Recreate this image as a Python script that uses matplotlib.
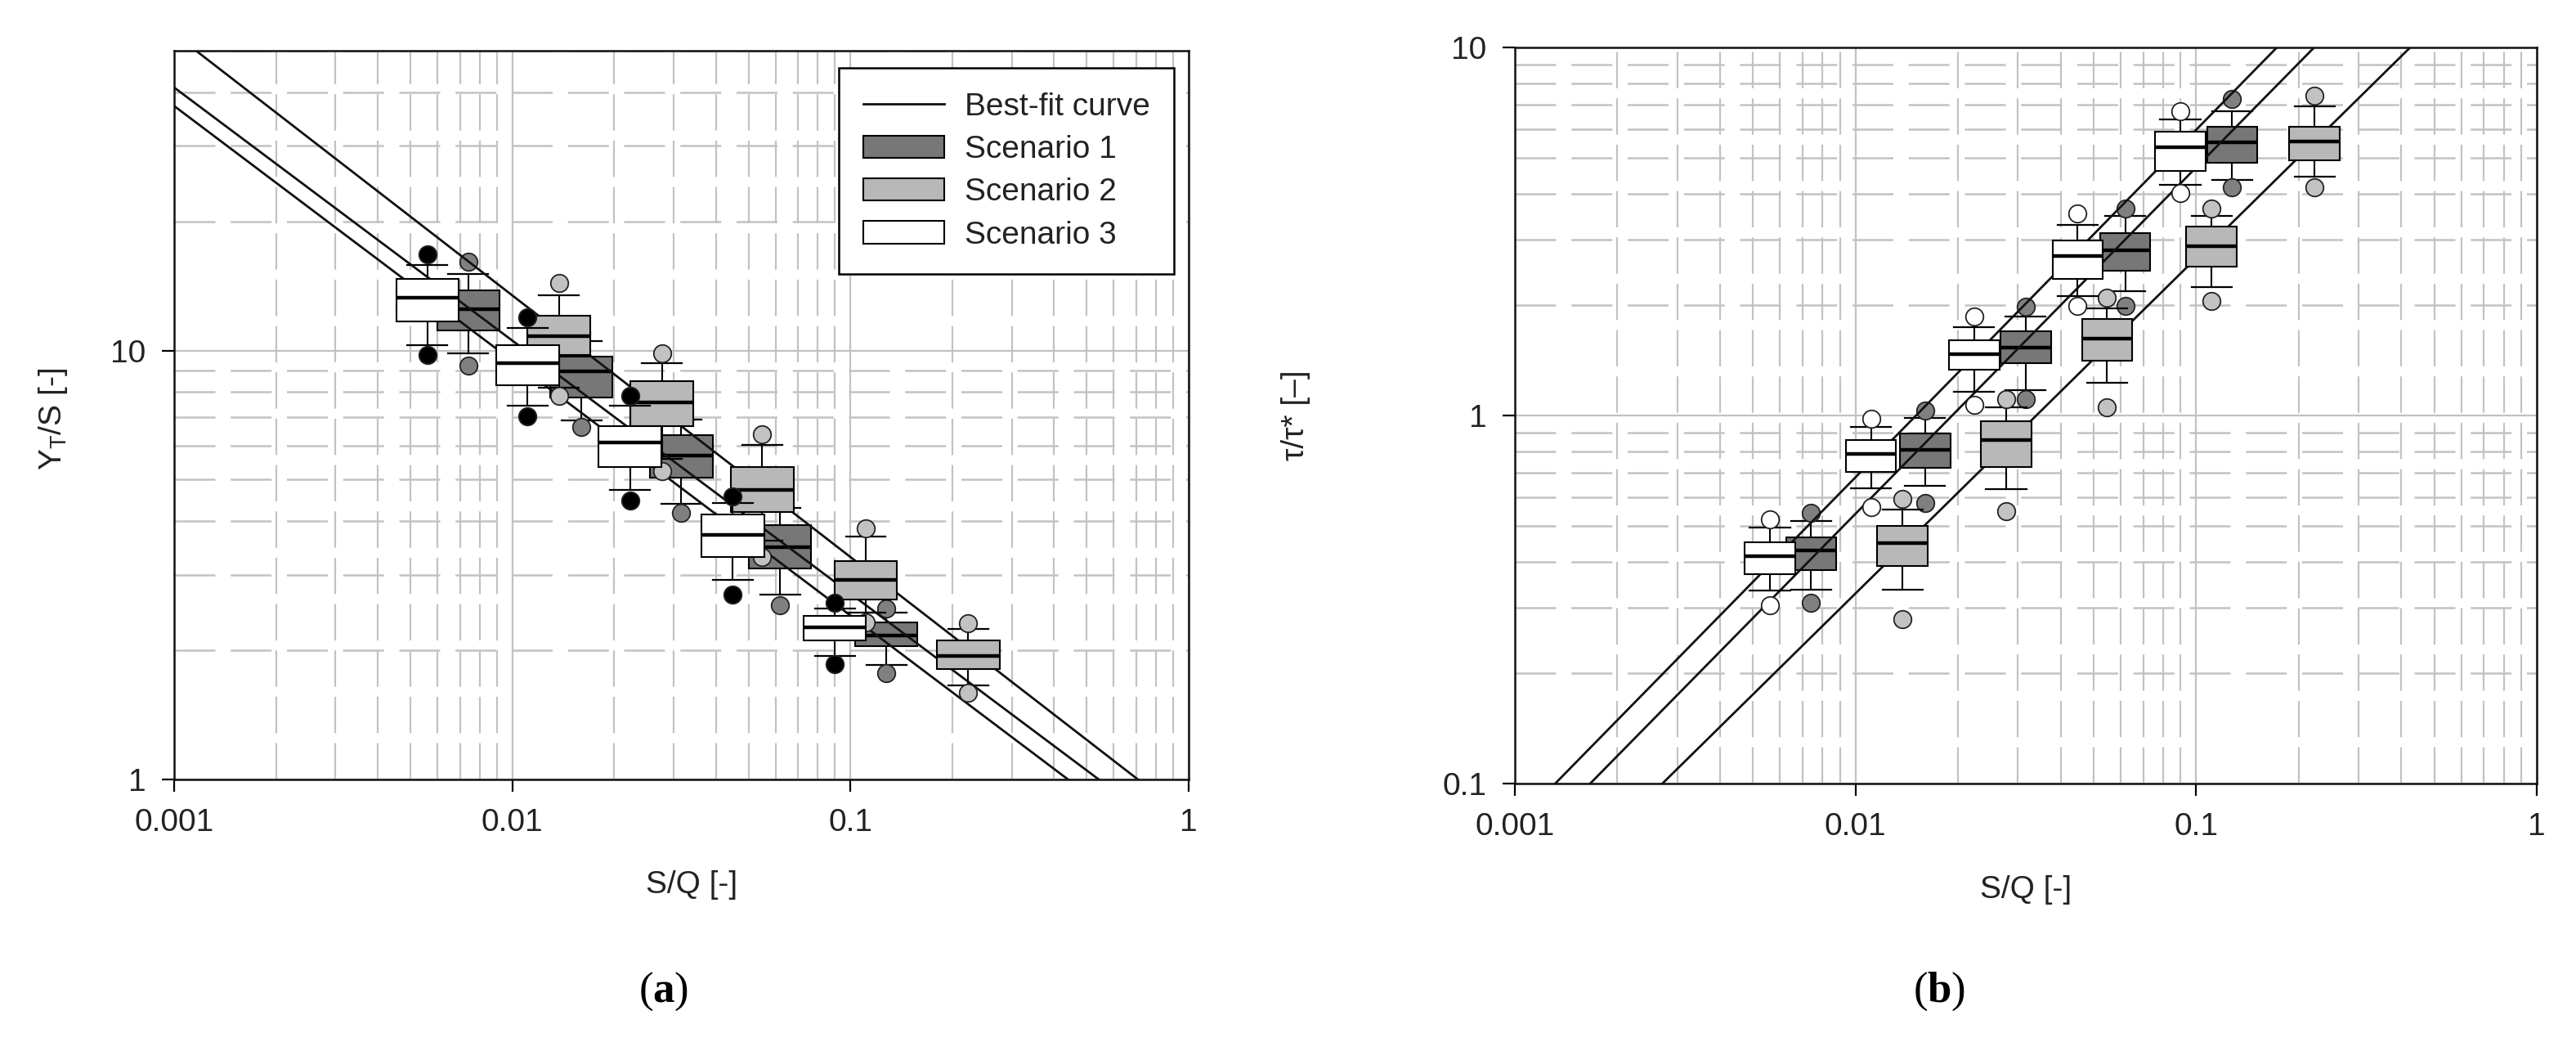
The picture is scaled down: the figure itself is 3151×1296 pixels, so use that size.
import numpy as np
import matplotlib
matplotlib.use("Agg")
import matplotlib.pyplot as plt
from matplotlib.patches import Rectangle, Patch
from matplotlib.lines import Line2D
from matplotlib.ticker import FixedLocator, LogLocator, FuncFormatter, NullFormatter

plt.rcParams['font.family'] = ['Liberation Sans', 'DejaVu Sans']
plt.rcParams['mathtext.fontset'] = 'custom'
plt.rcParams['mathtext.bf'] = 'Liberation Serif:bold'
plt.rcParams['mathtext.rm'] = 'Liberation Serif'

# ---------------- data ----------------
# S/Q positions of the boxes for each scenario
sq_s1 = [0.00741, 0.0160, 0.0316, 0.0619, 0.1276]
sq_s2 = [0.01374, 0.0277, 0.0548, 0.111, 0.2228]
sq_s3 = [0.00561, 0.0111, 0.0223, 0.0449, 0.0899]

# rows: [outlier_low, whisker_low, q1, median, q3, whisker_high, outlier_high]
# panel (a): Y_T/S
a_s1 = [[9.24, 9.87, 11.16, 12.46, 13.79, 15.06, 16.09],
        [6.64, 6.88, 7.78, 8.96, 9.70, 10.5, 11.0],
        [4.18, 4.39, 5.05, 5.69, 6.35, 6.9, 7.2],
        [2.55, 2.70, 3.11, 3.48, 3.91, 4.3, 4.5],
        [1.77, 1.85, 2.05, 2.17, 2.32, 2.45, 2.50]]
a_s2 = [[7.85, 8.2, 9.78, 10.82, 12.03, 13.43, 14.35],
        [5.23, 5.6, 6.67, 7.58, 8.50, 9.36, 9.87],
        [3.30, 3.6, 4.20, 4.73, 5.35, 6.03, 6.38],
        [2.32, 2.45, 2.63, 2.92, 3.23, 3.68, 3.85],
        [1.59, 1.66, 1.81, 1.94, 2.11, 2.24, 2.31]]
a_s3 = [[9.78, 10.31, 11.67, 13.26, 14.67, 15.81, 16.74],
        [7.03, 7.44, 8.31, 9.36, 10.27, 11.31, 11.93],
        [4.47, 4.73, 5.35, 6.11, 6.67, 7.44, 7.85],
        [2.70, 2.92, 3.30, 3.71, 4.15, 4.42, 4.57],
        [1.86, 1.94, 2.11, 2.26, 2.41, 2.50, 2.58]]

# panel (b): tau/tau*
b_s1 = [[0.310, 0.336, 0.380, 0.430, 0.467, 0.517, 0.544],
        [0.578, 0.644, 0.721, 0.806, 0.894, 0.985, 1.03],
        [1.11, 1.17, 1.39, 1.53, 1.69, 1.86, 1.98],
        [1.99, 2.18, 2.47, 2.81, 3.13, 3.48, 3.65],
        [4.17, 4.37, 4.86, 5.52, 6.09, 6.71, 7.24]]
b_s2 = [[0.280, 0.336, 0.390, 0.450, 0.501, 0.555, 0.593],
        [0.550, 0.631, 0.724, 0.858, 0.965, 1.05, 1.11],
        [1.05, 1.23, 1.41, 1.62, 1.83, 1.95, 2.09],
        [2.05, 2.23, 2.54, 2.88, 3.26, 3.48, 3.65],
        [4.17, 4.46, 4.94, 5.55, 6.09, 6.92, 7.39]]
b_s3 = [[0.305, 0.335, 0.371, 0.415, 0.453, 0.496, 0.522],
        [0.564, 0.634, 0.703, 0.787, 0.858, 0.931, 0.98],
        [1.07, 1.16, 1.33, 1.47, 1.60, 1.74, 1.86],
        [1.99, 2.11, 2.35, 2.71, 2.99, 3.29, 3.54],
        [4.02, 4.23, 4.62, 5.36, 5.90, 6.37, 6.71]]

# best-fit power laws y = c * x^e
fit_a_coef = [0.81, 0.697, 0.614]
fit_a_exp = [-0.610, -0.590, -0.594]
fit_b_coef = [52.5, 41.2, 21.8]
fit_b_exp = [0.944, 0.941, 0.911]

x_ticks = [0.001, 0.01, 0.1, 1]
a_yticks = [1, 10]
b_yticks = [0.1, 1, 10]
legend_labels = ['Best-fit curve', 'Scenario 1', 'Scenario 2', 'Scenario 3']

# ---------------- style ----------------
c_s1, c_s2, c_s3 = '#777777', '#b8b8b8', '#ffffff'
grid_c = '#c2c2c2'
txt_c = '#222222'

fig = plt.figure(figsize=(31.51, 12.96), dpi=100)
axA = fig.add_axes([213 / 3151, 1 - 953 / 1296, 1241 / 3151, 891 / 1296])
axB = fig.add_axes([1853 / 3151, 1 - 958 / 1296, 1250 / 3151, 900 / 1296])


def draw_box(ax, x, row, face, flier_face, bw, cw, z):
    olo, lo, q1, med, q3, hi, ohi = row
    f = 10 ** (bw / 2)
    g = 10 ** (cw / 2)
    ax.plot([x, x], [q3, hi], color='black', lw=1.5, zorder=z)
    ax.plot([x, x], [lo, q1], color='black', lw=1.5, zorder=z)
    ax.plot([x / g, x * g], [hi, hi], color='black', lw=1.6, zorder=z)
    ax.plot([x / g, x * g], [lo, lo], color='black', lw=1.6, zorder=z)
    ax.add_patch(Rectangle((x / f, q1), x * f - x / f, q3 - q1, facecolor=face,
                           edgecolor='black', lw=1.5, zorder=z + 0.2))
    ax.plot([x / f, x * f], [med, med], color='black', lw=3.2, zorder=z + 0.3,
            solid_capstyle='butt')
    ax.plot([x, x], [olo, ohi], 'o', ms=15.5, mfc=flier_face, mec='#222222',
            mew=1.3, ls='none', zorder=z + 0.1)


def style(ax, ylim, yticks):
    ax.set_xscale('log')
    ax.set_yscale('log')
    ax.set_xlim(0.001, 1)
    ax.set_ylim(*ylim)
    ax.xaxis.set_major_locator(FixedLocator(x_ticks))
    ax.yaxis.set_major_locator(FixedLocator(yticks))
    ax.xaxis.set_minor_locator(LogLocator(base=10, subs=np.arange(2, 10)))
    ax.yaxis.set_minor_locator(LogLocator(base=10, subs=np.arange(2, 10)))
    ax.xaxis.set_minor_formatter(NullFormatter())
    ax.yaxis.set_minor_formatter(NullFormatter())
    fmt = FuncFormatter(lambda v, p: f"{v:g}")
    ax.xaxis.set_major_formatter(fmt)
    ax.yaxis.set_major_formatter(fmt)
    ax.tick_params(which='major', direction='out', length=11, width=1.6,
                   labelsize=28, labelcolor=txt_c, pad=14, top=False, right=False)
    ax.tick_params(which='minor', length=0)
    ax.set_axisbelow(True)
    ax.xaxis.grid(True, which='major', color=grid_c, lw=1.6, ls='-')
    ax.yaxis.grid(True, which='major', color=grid_c, lw=1.6, ls='-')
    ax.xaxis.grid(True, which='minor', color=grid_c, lw=1.6, ls=(0, (20, 5.5)))
    ax.yaxis.grid(True, which='minor', color=grid_c, lw=1.8, ls=(0, (20, 7.5)))
    for s in ax.spines.values():
        s.set_linewidth(1.8)
        s.set_color('#111111')
        s.set_zorder(20)


style(axA, (1, 50), a_yticks)
style(axB, (0.1, 10), b_yticks)

xs_line = np.logspace(-3, 0, 300)
for c, e in zip(fit_a_coef, fit_a_exp):
    axA.plot(xs_line, c * xs_line ** e, color='#111111', lw=2.0, zorder=3)
for c, e in zip(fit_b_coef, fit_b_exp):
    axB.plot(xs_line, c * xs_line ** e, color='#111111', lw=2.0, zorder=3)

for ax, d1, d2, d3, fl3, bw in [(axA, a_s1, a_s2, a_s3, '#000000', 0.185),
                                (axB, b_s1, b_s2, b_s3, '#ffffff', 0.148)]:
    for x, row in zip(sq_s1, d1):
        draw_box(ax, x, row, c_s1, '#808080', bw, 0.118, 2)
    for x, row in zip(sq_s2, d2):
        draw_box(ax, x, row, c_s2, '#c2c2c2', bw, 0.118, 4)
    for x, row in zip(sq_s3, d3):
        draw_box(ax, x, row, c_s3, fl3, bw, 0.118, 5)

# axis labels
axA.set_xlabel('S/Q [-]', fontsize=28, color=txt_c)
axA.xaxis.set_label_coords(0.51, -0.125)
axA.set_ylabel(r'Y$_\mathregular{T}$/S [-]', fontsize=28, color=txt_c)
axA.yaxis.set_label_coords(-0.103, 0.495)
axB.set_xlabel('S/Q [-]', fontsize=28, color=txt_c)
axB.xaxis.set_label_coords(0.5, -0.125)
axB.set_ylabel('τ/τ* [–]', fontsize=28, color=txt_c)
axB.yaxis.set_label_coords(-0.2, 0.5)

# legend
handles = [Line2D([], [], color='#111111', lw=2.0),
           Patch(facecolor=c_s1, edgecolor='black', lw=1.5),
           Patch(facecolor=c_s2, edgecolor='black', lw=1.5),
           Patch(facecolor=c_s3, edgecolor='black', lw=1.5)]
leg = axA.legend(handles, legend_labels, loc='upper right', bbox_to_anchor=(0.9855, 0.976),
                 borderaxespad=0, fontsize=28, frameon=True, fancybox=False,
                 edgecolor='black', framealpha=1, handlelength=2.55, handleheight=0.7,
                 handletextpad=0.65, labelspacing=0.42, borderpad=0.75)
leg.get_frame().set_linewidth(1.8)
leg.set_zorder(30)
for t in leg.get_texts():
    t.set_color(txt_c)

# panel letters
fig.text(812 / 3151, 1 - 1212 / 1296, r'($\mathbf{a}$)', fontsize=38,
         family='Liberation Serif', ha='center', va='center', color='black')
fig.text(2372 / 3151, 1 - 1212 / 1296, r'($\mathbf{b}$)', fontsize=38,
         family='Liberation Serif', ha='center', va='center', color='black')

fig.savefig('out.png', dpi=100, facecolor='white')
